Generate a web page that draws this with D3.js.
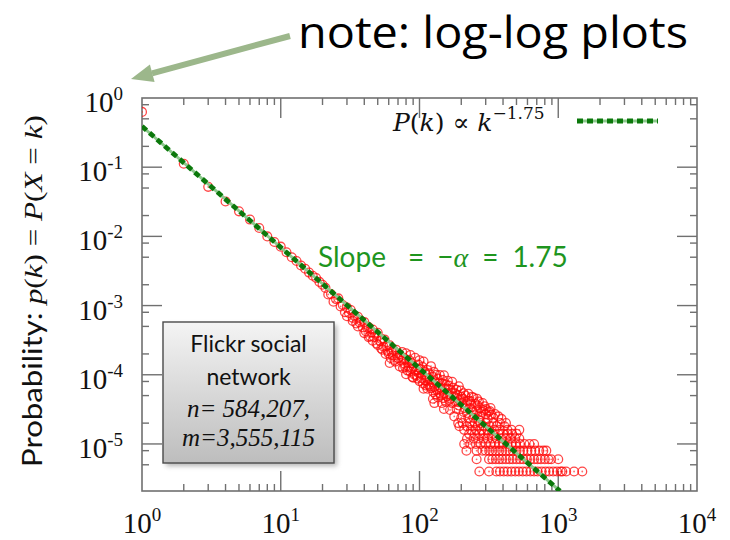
<!DOCTYPE html>
<html>
<head>
<meta charset="utf-8">
<script src="https://cdnjs.cloudflare.com/ajax/libs/d3/7.8.5/d3.min.js"></script>
<style>
  body { margin: 0; background: #fff; }
  svg { display: block; }
</style>
</head>
<body>
<div id="chart"></div>
<script>
// degree distribution of the Flickr graph
const headDegree = [1, 2, 3, 4, 5, 6, 7, 8, 9, 10, 11, 12, 13, 14, 15, 16, 17, 18, 19, 20];
const headProb = [0.63, 0.112, 0.052, 0.032, 0.023, 0.0175, 0.0132, 0.0100, 0.0083, 0.0071,
  0.0059, 0.0050, 0.0044, 0.0038, 0.0034, 0.0030, 0.0027, 0.0025, 0.0022, 0.0020];

const midDegree = [21, 22, 23, 24, 25, 26, 27, 28, 29, 30, 31, 32, 33, 34, 35, 36, 37, 38, 39, 40,
  41, 42, 43, 44, 45, 46, 47, 48, 49, 50, 52, 53, 54, 55, 56, 58, 60, 61, 61, 63, 65, 66, 68, 70];
const midProb = [1.80e-3, 1.45e-3, 1.47e-3, 1.14e-3, 1.24e-3, 1.27e-3, 9.7e-4, 1.02e-3, 8.0e-4, 9.4e-4,
  7.8e-4, 8.6e-4, 6.65e-4, 7.1e-4, 5.5e-4, 6.9e-4, 5.7e-4, 6.0e-4, 4.85e-4, 5.8e-4,
  4.25e-4, 4.8e-4, 4.9e-4, 3.6e-4, 4.1e-4, 4.5e-4, 3.5e-4, 3.9e-4, 2.83e-4, 4.05e-4,
  3.07e-4, 3.3e-4, 2.3e-4, 2.54e-4, 3.24e-4, 2.6e-4, 2.03e-4, 2.67e-4, 1.48e-4, 2.14e-4,
  2.28e-4, 1.64e-4, 2.3e-4, 1.74e-4];

const tailDegree = [72, 72, 75, 78, 80, 80, 83, 86, 86, 88, 89, 90, 93, 93, 95, 98, 100, 100,
  104, 107, 107, 110, 114, 114, 118, 121, 121, 125, 125, 128, 128, 132, 136, 136, 140, 140,
  145, 145, 150, 150, 150, 155, 155, 160, 160, 166, 166, 172, 172, 178, 178, 185, 185, 192,
  192, 200, 200, 208, 208, 216, 225, 225, 235, 245, 245, 256, 268, 268, 280, 295, 310, 330, 350];
const tailProb = [1.95e-4, 1.32e-4, 2.13e-4, 1.44e-4, 2.04e-4, 1.02e-4, 1.49e-4, 1.93e-4, 1.11e-4,
  1.47e-4, 9.3e-5, 9.1e-5, 1.76e-4, 1.14e-4, 9.75e-5, 1.40e-4, 8.1e-5, 1.62e-4,
  1.02e-4, 1.55e-4, 6.3e-5, 8.3e-5, 1.17e-4, 6.3e-5, 8.6e-5, 1.33e-4, 6.4e-5, 4.5e-5, 9.3e-5,
  3.9e-5, 6.6e-5, 1.0e-4, 4.7e-5, 7.5e-5, 9.9e-5, 5.4e-5,
  3.9e-5, 7.55e-5, 9.8e-5, 5.4e-5, 3.2e-5, 7.2e-5, 4.05e-5, 8.2e-5, 5.2e-5, 3.1e-5, 6.1e-5,
  7.9e-5, 3.9e-5, 4.8e-5, 2.5e-5, 6.05e-5, 3.2e-5, 6.8e-5,
  3.6e-5, 4.8e-5, 2.4e-5, 5.4e-5, 2.9e-5, 3.6e-5, 5.3e-5, 2.37e-5, 3.8e-5, 4.7e-5, 2.4e-5,
  3.0e-5, 4.1e-5, 2.2e-5, 2.9e-5, 3.5e-5, 2.3e-5, 2.65e-5, 2.7e-5];

const scatterDegree = [102, 112, 116, 130, 134, 142, 148, 158, 163, 170, 182, 188, 196, 204,
  212, 220, 230, 240, 250, 262, 275, 288, 300, 320, 340, 370, 390];
const scatterProb = [1.2e-4, 1.0e-4, 7.2e-5, 8.0e-5, 6.0e-5, 6.5e-5, 4.6e-5, 6.3e-5, 4.3e-5,
  5.5e-5, 4.1e-5, 5.0e-5, 4.4e-5, 3.9e-5,
  3.3e-5, 2.8e-5, 4.2e-5, 3.1e-5, 2.6e-5, 3.6e-5, 2.5e-5, 3.1e-5, 2.7e-5, 3.0e-5, 2.4e-5,
  2.5e-5, 2.3e-5];

const denseDegree = [30, 33, 36, 40, 43, 46, 50, 53, 57, 59, 62, 64, 67, 69,
  74, 76, 77, 79, 81, 82, 84, 85, 87, 91, 92, 96, 97, 99, 103, 105, 106, 109, 111, 113,
  117, 119, 123, 126, 127, 131, 135, 138, 143, 147, 152, 157, 162, 168, 175, 180, 190, 198,
  206, 214, 222, 232, 238, 252, 260, 272, 285, 300, 315, 325];
const denseProb = [7.0e-4, 6.0e-4, 5.0e-4, 4.0e-4, 3.5e-4, 3.1e-4, 2.7e-4, 2.4e-4, 2.0e-4, 2.2e-4,
  1.75e-4, 1.9e-4, 1.55e-4, 1.9e-4,
  1.6e-4, 1.25e-4, 1.75e-4, 1.3e-4, 1.65e-4, 1.15e-4, 1.3e-4, 1.6e-4, 1.2e-4, 1.3e-4,
  1.0e-4, 1.2e-4, 8.8e-5, 1.05e-4, 9.0e-5, 1.3e-4, 7.5e-5, 1.1e-4, 7.0e-5, 8.8e-5,
  1.05e-4, 6.8e-5, 7.8e-5, 5.6e-5, 1.1e-4, 5.2e-5, 8.8e-5, 6.2e-5, 5.0e-5, 8.4e-5,
  6.2e-5, 4.9e-5, 7.0e-5, 4.5e-5, 6.5e-5, 5.4e-5, 4.0e-5, 5.9e-5, 4.5e-5, 5.0e-5,
  4.2e-5, 3.3e-5, 4.8e-5, 3.8e-5, 4.5e-5, 3.3e-5, 3.9e-5, 3.2e-5, 2.9e-5, 3.3e-5];

// low-count tail: the same probability repeated over many degrees
const rowLevels = [4e-6, 6e-6, 8e-6, 1e-5, 1.2e-5, 1.4e-5, 1.6e-5, 1.8e-5, 2e-5];
const rowDegrees = [
  [270, 317, 358, 380, 405, 430, 460, 490, 520, 555, 590, 630, 670, 710, 760, 810, 860, 920, 980, 1040, 1070, 1140, 1300, 1490],
  [258, 317, 335, 355, 375, 395, 420, 445, 470, 500, 530, 560, 595, 630, 670, 710, 750, 800, 850, 890, 1000],
  [218, 258, 284, 300, 318, 335, 355, 375, 395, 420, 445, 470, 500, 530, 560, 600, 640, 680, 730, 780, 820],
  [210, 232, 255, 275, 300, 325, 350, 375, 400, 430, 460, 495, 530, 570, 620, 670],
  [220, 245, 265, 290, 310, 335, 360, 390, 420, 455, 490, 524],
  [228, 250, 270, 290, 315, 340, 370, 400, 430, 465, 500],
  [210, 235, 255, 280, 310, 345, 380, 430, 460, 524],
  [194, 220, 240, 262, 290, 320, 360, 410],
  [190, 205, 230, 250, 275, 300, 340, 380, 420]
];

// fitted power law P(k) ~ k^-1.75
const fitDegree = [1, 1030];
const fitProb = [0.39, 2.08e-6];

const xExponents = [0, 1, 2, 3, 4];
const yExponents = [0, -1, -2, -3, -4, -5];

const w = 730, h = 540;
const plotLeft = 142, plotRight = 697, plotTop = 98, plotBottom = 491;

const svg = d3.select("#chart").append("svg")
  .attr("width", w).attr("height", h);

const x = d3.scaleLog().domain([1, 1e4]).range([plotLeft, plotRight]);
const y = d3.scaleLog().domain([Math.pow(10, -5.68), 1]).range([plotBottom, plotTop]);

const defs = svg.append("defs");
defs.append("clipPath").attr("id", "plot")
  .append("rect").attr("x", plotLeft).attr("y", plotTop)
  .attr("width", plotRight - plotLeft).attr("height", plotBottom - plotTop);
const grad = defs.append("linearGradient").attr("id", "boxfill")
  .attr("x1", 0).attr("y1", 0).attr("x2", 0).attr("y2", 1);
grad.append("stop").attr("offset", "0%").attr("stop-color", "#f4f4f4");
grad.append("stop").attr("offset", "100%").attr("stop-color", "#bdbdbd");
const blur = defs.append("filter").attr("id", "shadow")
  .attr("x", "-20%").attr("y", "-20%").attr("width", "140%").attr("height", "140%");
blur.append("feGaussianBlur").attr("stdDeviation", 2.5);

// frame and ticks
const axisColor = "#707070";
svg.append("rect")
  .attr("x", plotLeft).attr("y", plotTop)
  .attr("width", plotRight - plotLeft).attr("height", plotBottom - plotTop)
  .attr("fill", "none").attr("stroke", axisColor).attr("stroke-width", 1.6);

const xMajor = xExponents.map(e => Math.pow(10, e));
const xMinor = [];
xExponents.slice(0, -1).forEach(e => {
  for (let m = 2; m <= 9; m++) xMinor.push(m * Math.pow(10, e));
});
const yMajor = yExponents.map(e => Math.pow(10, e));
const yMinor = [];
yExponents.forEach(e => {
  [8, 5, 2].forEach(m => {
    const v = m * Math.pow(10, e - 1);
    if (v >= y.domain()[0]) yMinor.push(v);
  });
});

const ticks = svg.append("g").attr("stroke", axisColor).attr("stroke-width", 1.4);
function xTicks(vals, len) {
  vals.forEach(v => {
    ticks.append("line").attr("x1", x(v)).attr("x2", x(v)).attr("y1", plotBottom).attr("y2", plotBottom - len);
    ticks.append("line").attr("x1", x(v)).attr("x2", x(v)).attr("y1", plotTop).attr("y2", plotTop + len);
  });
}
function yTicks(vals, len) {
  vals.forEach(v => {
    ticks.append("line").attr("y1", y(v)).attr("y2", y(v)).attr("x1", plotLeft).attr("x2", plotLeft + len);
    ticks.append("line").attr("y1", y(v)).attr("y2", y(v)).attr("x1", plotRight).attr("x2", plotRight - len);
  });
}
xTicks(xMajor.slice(1, -1), 20);
xTicks(xMinor, 7);
yTicks(yMajor.slice(1), 20);
yTicks(yMinor, 7);

// tick labels
const labelFont = "'Liberation Serif', 'DejaVu Serif', serif";
yExponents.forEach(e => {
  const t = svg.append("text")
    .attr("x", 123).attr("y", y(Math.pow(10, e)) + 14)
    .attr("text-anchor", "end")
    .attr("font-family", labelFont).attr("font-size", 29).attr("fill", "#111");
  t.append("tspan").text("10");
  t.append("tspan").attr("dy", -12).attr("font-size", 19).text(e === 0 ? "0" : "-" + (-e));
});
xExponents.forEach(e => {
  const t = svg.append("text")
    .attr("x", x(Math.pow(10, e))).attr("y", 533)
    .attr("text-anchor", "middle")
    .attr("font-family", labelFont).attr("font-size", 29).attr("fill", "#111");
  t.append("tspan").text("10");
  t.append("tspan").attr("dy", -12).attr("font-size", 19).text(String(e));
});

// data points
const points = [];
headDegree.forEach((k, i) => points.push([k, headProb[i]]));
midDegree.forEach((k, i) => points.push([k, midProb[i]]));
tailDegree.forEach((k, i) => points.push([k, tailProb[i]]));
scatterDegree.forEach((k, i) => points.push([k, scatterProb[i]]));
denseDegree.forEach((k, i) => points.push([k, denseProb[i]]));
rowLevels.forEach((p, r) => rowDegrees[r].forEach(k => points.push([k, p])));

const dots = svg.append("g").attr("clip-path", "url(#plot)");
dots.selectAll("circle.ring").data(points).enter().append("circle")
  .attr("class", "ring")
  .attr("cx", d => x(d[0])).attr("cy", d => y(d[1]))
  .attr("r", 4.4)
  .attr("fill", "none").attr("stroke", "#ff0a0a")
  .attr("stroke-opacity", 0.75).attr("stroke-width", 1.3);
dots.selectAll("circle.dot").data(points).enter().append("circle")
  .attr("class", "dot")
  .attr("cx", d => x(d[0])).attr("cy", d => y(d[1]))
  .attr("r", 0.9).attr("fill", "#ff0a0a").attr("fill-opacity", 0.6);

// fitted line
const fit = fitDegree.map((k, i) => [k, fitProb[i]]);
const fitLine = d3.line().x(d => x(d[0])).y(d => y(d[1]));
const fitG = svg.append("g").attr("clip-path", "url(#plot)");
fitG.append("path").datum(fit).attr("d", fitLine)
  .attr("fill", "none").attr("stroke", "#8cc98c").attr("stroke-width", 3);
fitG.append("path").datum(fit).attr("d", fitLine)
  .attr("fill", "none").attr("stroke", "#0b780b").attr("stroke-width", 4.8)
  .attr("stroke-dasharray", "6,4");

// legend
const legend = svg.append("text")
  .attr("x", 393).attr("y", 131)
  .attr("font-family", "'DejaVu Serif', serif")
  .attr("font-size", 25).attr("fill", "#111");
legend.append("tspan").attr("font-style", "italic").text("P");
legend.append("tspan").text("(");
legend.append("tspan").attr("font-style", "italic").text("k");
legend.append("tspan").text(") \u221D ");
legend.append("tspan").attr("font-style", "italic").text("k");
legend.append("tspan").attr("dy", -12).attr("font-size", 17).text("\u22121.75");
svg.append("line").attr("x1", 577).attr("x2", 658).attr("y1", 121).attr("y2", 121)
  .attr("stroke", "#8cc98c").attr("stroke-width", 3);
svg.append("line").attr("x1", 577).attr("x2", 658).attr("y1", 121).attr("y2", 121)
  .attr("stroke", "#0b780b").attr("stroke-width", 4.8).attr("stroke-dasharray", "6,4");

// slope annotation
const slope = svg.append("text")
  .attr("x", 318).attr("y", 267)
  .attr("font-family", "Lato, 'Open Sans', sans-serif")
  .attr("font-size", 28).attr("fill", "#1e951e");
slope.append("tspan").text("Slope");
slope.append("tspan").attr("dx", 22).text("=");
slope.append("tspan").attr("dx", 13).text("\u2212");
slope.append("tspan").attr("font-family", "'Liberation Serif', serif").attr("font-style", "italic").text("\u03B1");
slope.append("tspan").attr("dx", 14).text("=");
slope.append("tspan").attr("dx", 14).text("1.75");

// info box
svg.append("rect").attr("x", 166).attr("y", 325).attr("width", 171).attr("height", 141)
  .attr("fill", "#777").attr("opacity", 0.55).attr("filter", "url(#shadow)");
svg.append("rect").attr("x", 163).attr("y", 322).attr("width", 171).attr("height", 141)
  .attr("fill", "url(#boxfill)").attr("stroke", "#4a4a4a").attr("stroke-width", 1.4);
const boxText = [
  { t: "Flickr social", y: 352, sans: true },
  { t: "network", y: 385, sans: true },
  { t: "n= 584,207,", y: 417, sans: false },
  { t: "m=3,555,115", y: 446, sans: false }
];
svg.selectAll("text.box").data(boxText).enter().append("text")
  .attr("class", "box")
  .attr("x", 248.5).attr("y", d => d.y)
  .attr("text-anchor", "middle")
  .attr("font-family", d => d.sans ? "Lato, 'Open Sans', sans-serif" : "'Liberation Serif', serif")
  .attr("font-style", d => d.sans ? "normal" : "italic")
  .attr("font-size", d => d.sans ? 23 : 25)
  .attr("fill", "#111")
  .text(d => d.t);

// y axis title
const yTitle = svg.append("text")
  .attr("transform", "translate(42,291) rotate(-90)")
  .attr("text-anchor", "middle")
  .attr("font-size", 26).attr("fill", "#111")
  .attr("textLength", 352).attr("lengthAdjust", "spacingAndGlyphs");
yTitle.append("tspan").attr("font-family", "Lato, 'Open Sans', sans-serif").text("Probability: ");
const serifParts = [["p", true], ["(", false], ["k", true], [")  =  ", false], ["P", true],
  ["(", false], ["X", true], [" = ", false], ["k", true], [")", false]];
serifParts.forEach(([s, it]) => {
  yTitle.append("tspan")
    .attr("font-family", "'Liberation Serif', serif")
    .attr("font-style", it ? "italic" : "normal")
    .text(s);
});

// slide note with arrow
svg.append("text")
  .attr("x", 298).attr("y", 48)
  .attr("font-family", "'Open Sans', sans-serif")
  .attr("font-size", 43).attr("fill", "#000")
  .attr("textLength", 390).attr("lengthAdjust", "spacingAndGlyphs")
  .text("note: log-log plots");
svg.append("line").attr("x1", 290).attr("y1", 36).attr("x2", 152).attr("y2", 73.3)
  .attr("stroke", "#9cb78b").attr("stroke-width", 6);
svg.append("polygon")
  .attr("points", "131,79 154.6,82 149.9,64.6")
  .attr("fill", "#9cb78b");
</script>
</body>
</html>
